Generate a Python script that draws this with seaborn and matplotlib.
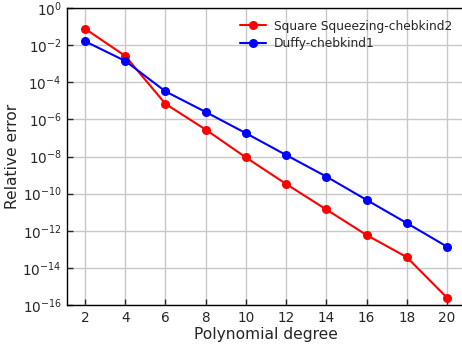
import numpy as np
import pandas as pd
import matplotlib
matplotlib.use("Agg")
import matplotlib.pyplot as plt
import seaborn as sns

degrees = [2, 4, 6, 8, 10, 12, 14, 16, 18, 20]
square_squeezing = [7.6e-2, 2.6e-3, 6.8e-6, 2.8e-7, 8.9e-9, 3.3e-10, 1.4e-11, 5.9e-13, 3.8e-14, 2.5e-16]
duffy = [1.6e-2, 1.4e-3, 3.2e-5, 2.5e-6, 1.8e-7, 1.2e-8, 8.3e-10, 4.6e-11, 2.6e-12, 1.4e-13]
series_names = ["Square Squeezing-chebkind2", "Duffy-chebkind1"]
colors = ["red", "blue"]
xticks = [2, 4, 6, 8, 10, 12, 14, 16, 18, 20]
yticks = [1e0, 1e-2, 1e-4, 1e-6, 1e-8, 1e-10, 1e-12, 1e-14, 1e-16]

df = pd.DataFrame({
    "degree": degrees * 2,
    "error": square_squeezing + duffy,
    "method": [series_names[0]] * len(degrees) + [series_names[1]] * len(degrees),
})

sns.set_style("white")
plt.rcParams["font.family"] = ["DejaVu Sans"]

fig = plt.figure(figsize=(4.62, 3.45), dpi=100)
ax = fig.add_axes([67 / 462, 1 - 305 / 345, 398 / 462, 297 / 345])

sns.lineplot(data=df, x="degree", y="error", hue="method", palette=colors,
             hue_order=series_names, marker="o", markersize=6.5,
             markeredgewidth=0, linewidth=1.5, ax=ax)

ax.set_yscale("log")
ax.set_ylim(1e-16, 1e0)
ax.set_xlim(1.1, 20.9)
ax.set_xticks(xticks)
ax.set_xticklabels([str(t) for t in xticks])
ax.set_yticks(yticks)
ax.yaxis.set_minor_locator(matplotlib.ticker.NullLocator())
ax.grid(True, color="#c8c8c8", linewidth=1.0)
ax.set_axisbelow(True)
for s in ["left", "bottom", "top", "right"]:
    ax.spines[s].set_color("black")
    ax.spines[s].set_linewidth(1.0)
ax.tick_params(axis="both", which="major", direction="in", length=4, width=1,
               labelsize=9.8, left=True, bottom=True, top=False, right=False, pad=4)
ax.set_xlabel("Polynomial degree", fontsize=11.2, labelpad=2)
ax.set_ylabel("Relative error", fontsize=11.2, labelpad=2)

leg = ax.legend(loc="upper right", bbox_to_anchor=(0.99, 0.99), frameon=False,
                fontsize=8.8, handlelength=2.1, handletextpad=0.7,
                labelspacing=0.35, borderaxespad=0.3)

fig.savefig("out.png", dpi=100)
